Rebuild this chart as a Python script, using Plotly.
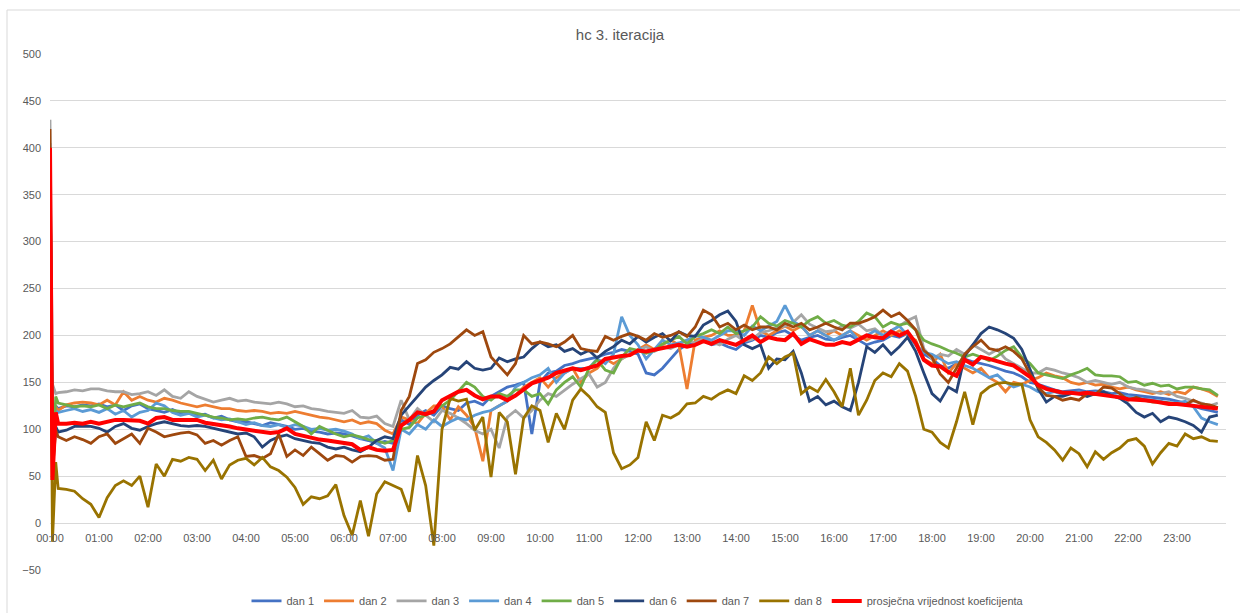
import plotly.graph_objects as go

# Sample times in minutes after midnight: three early readings, then every 10 minutes
sample_minutes = [0, 3, 7] + list(range(10, 1440, 10))

hour_ticks = list(range(0, 1440, 60))
hour_labels = ["00:00", "01:00", "02:00", "03:00", "04:00", "05:00", "06:00", "07:00",
               "08:00", "09:00", "10:00", "11:00", "12:00", "13:00", "14:00", "15:00",
               "16:00", "17:00", "18:00", "19:00", "20:00", "21:00", "22:00", "23:00"]

dan_1 = [405, 60, 125,
         122, 125, 124, 126, 125,
         127, 124, 126, 120, 125, 127,
         122, 120, 118, 121, 117, 118,
         115, 116, 112, 114, 110, 108,
         108, 106, 104, 107, 105, 103,
         100, 101, 98, 97, 95, 96,
         95, 93, 90, 88, 85, 87,
         85, 110, 105, 115, 120, 115,
         125, 122, 120, 128, 130, 126,
         135, 140, 145, 147, 150, 95,
         150, 160, 162, 168, 170, 173,
         175, 177, 180, 182, 185, 183,
         180, 160, 158, 165, 175, 185,
         190, 193, 195, 190, 192, 188,
         185, 192, 195, 200, 198, 203,
         205, 200, 195, 198, 200, 196,
         195, 198, 200, 195, 190, 193,
         195, 200, 198, 202, 190, 180,
         175, 168, 165, 170, 175, 172,
         170, 168, 165, 162, 160, 156,
         150, 148, 145, 142, 140, 141,
         142, 140, 141, 140, 138, 139,
         137, 136, 135, 134, 133, 132,
         130, 128, 125, 122, 120, 118]

dan_2 = [400, 55, 124,
         120, 126, 128, 129, 128,
         126, 131, 126, 140, 131, 135,
         131, 129, 133, 131, 128, 126,
         124, 126, 124, 122, 122, 120,
         119, 120, 119, 117, 118, 117,
         119, 117, 115, 113, 112, 110,
         108, 110, 106, 108, 106, 99,
         95, 113, 110, 106, 117, 125,
         125, 110, 124, 115, 102, 66,
         120, 125, 130, 136, 145, 150,
         155, 145, 155, 160, 165, 150,
         160, 165, 175, 170, 175, 180,
         185, 190, 185, 190, 195, 190,
         143, 195, 198, 200, 205, 200,
         200, 205, 232, 205, 200, 205,
         210, 205, 210, 200, 205, 200,
         205, 200, 205, 200, 195, 200,
         205, 200, 205, 200, 195, 175,
         170, 180, 160, 170, 165, 160,
         165, 155, 150, 140, 150, 148,
         152, 155, 160, 157, 155, 150,
         148, 150, 147, 148, 145, 143,
         145, 142, 140, 138, 140, 137,
         140, 138, 145, 143, 140, 135]

dan_3 = [430, 148, 138,
         139, 140, 142, 141, 143,
         143, 141, 140, 140, 137, 138,
         140, 136, 142, 135, 133, 140,
         135, 132, 129, 131, 133, 130,
         131, 129, 128, 127, 129, 127,
         124, 125, 122, 121, 119, 118,
         117, 120, 113, 112, 114, 106,
         103, 131, 110, 122, 115, 108,
         120, 117, 112, 106, 99, 95,
         100, 80, 113, 120, 112, 120,
         131, 138, 135, 142, 148, 154,
         159, 145, 150, 165, 175, 180,
         184, 188, 183, 188, 186, 190,
         195, 192, 197, 193, 190, 196,
         200, 194, 196, 203, 205, 208,
         210, 214, 222, 212, 208, 204,
         205, 210, 208, 212, 205, 207,
         200, 205, 210, 216, 220, 186,
         175, 180, 178, 185, 180, 190,
         185, 180, 185, 175, 170, 165,
         160, 160, 165, 163, 160, 158,
         155, 150, 152, 150, 148, 150,
         145, 143, 142, 140, 138, 140,
         135, 133, 130, 128, 125, 128]

dan_4 = [395, 55, 120,
         118, 120, 122, 119, 121,
         118, 122, 116, 120, 113, 118,
         120, 128, 125, 118, 115, 117,
         113, 115, 112, 110, 111, 108,
         105, 107, 104, 103, 105, 102,
         105, 103, 100, 101, 99, 100,
         98, 95, 90, 93, 85, 80,
         56, 100, 95, 105, 100, 110,
         103, 108, 112, 110, 115, 118,
         120, 125, 130, 145, 150, 155,
         158, 165, 150, 160, 165, 165,
         165, 175, 170, 180, 220, 200,
         190, 175, 185, 195, 190, 192,
         195, 200, 198, 195, 200, 205,
         205, 200, 210, 205, 210, 215,
         232, 215, 210, 200, 205, 200,
         195, 200, 205, 195, 200, 205,
         200, 205, 210, 200, 190, 182,
         180, 175, 170, 172, 168, 165,
         160, 155, 158, 150, 145, 148,
         145, 140, 138, 140, 137, 138,
         140, 137, 139, 140, 136, 135,
         135, 133, 132, 131, 130, 128,
         128, 130, 124, 112, 108, 105]

dan_5 = [400, 55, 135,
         128, 126, 124, 125, 124,
         126, 122, 126, 124, 126, 128,
         124, 122, 122, 120, 119, 119,
         117, 115, 113, 112, 110, 111,
         110, 112, 113, 111, 110, 113,
         108, 103, 95, 103, 99, 95,
         92, 94, 92, 89, 88, 85,
         88, 100, 102, 112, 115, 120,
         125, 131, 140, 150, 145, 135,
         131, 138, 135, 142, 142, 135,
         138, 127, 142, 150, 156, 145,
         165, 174, 163, 160, 177, 186,
         184, 181, 184, 191, 195, 199,
         191, 199, 202, 206, 202, 209,
         202, 205, 209, 220, 213, 210,
         216, 213, 209, 216, 220, 213,
         216, 211, 209, 215, 224, 220,
         209, 214, 211, 213, 206, 195,
         191, 188, 184, 181, 177, 180,
         177, 173, 178, 184, 188, 177,
         170, 160, 158, 156, 154, 158,
         161, 165, 158, 157, 157, 156,
         150, 151, 147, 149, 146, 147,
         143, 145, 145, 143, 142, 136]

dan_6 = [390, 60, 103,
         97, 99, 103, 103, 103,
         101, 97, 103, 106, 101, 99,
         103, 106, 108, 106, 104, 103,
         104, 103, 101, 99, 97, 95,
         96, 92, 81, 88, 92, 94,
         90, 88, 86, 85, 81, 79,
         81, 78, 76, 81, 88, 92,
         90, 115, 125, 135, 145, 152,
         158, 166, 164, 172, 165, 163,
         165, 176, 172, 175, 177, 186,
         193, 188, 190, 183, 186, 180,
         184, 176, 183, 188, 195, 191,
         199, 193, 198, 202, 194, 204,
         200, 199, 211, 216, 222, 226,
         215, 190, 186, 190, 165, 175,
         174, 183, 160, 130, 135, 126,
         130, 124, 120, 150, 188, 182,
         190, 180, 188, 198, 183, 160,
         138, 130, 145, 140, 178, 190,
         202, 209, 206, 202, 197, 185,
         163, 143, 129, 135, 135, 138,
         138, 135, 138, 140, 136, 133,
         127, 118, 113, 117, 108, 113,
         111, 108, 104, 97, 113, 115]

dan_7 = [420, 55, 99,
         92, 88, 92, 89, 85,
         92, 95, 85, 90, 95, 85,
         101, 97, 92, 94, 96, 97,
         94, 85, 88, 83, 88, 92,
         71, 72, 69, 74, 95, 71,
         78, 72, 81, 74, 67, 72,
         71, 65, 71, 72, 71, 67,
         68, 120, 135, 170, 174, 182,
         186, 191, 199, 206, 200, 204,
         177, 167, 158, 170, 200, 191,
         193, 191, 188, 193, 200, 186,
         184, 183, 199, 195, 199, 202,
         199, 195, 202, 198, 200, 204,
         199, 209, 227, 222, 209, 213,
         206, 211, 206, 209, 209, 206,
         213, 209, 213, 206, 209, 213,
         209, 206, 213, 213, 216, 220,
         227, 220, 224, 216, 206, 184,
         177, 159, 150, 165, 180, 188,
         195, 186, 184, 188, 183, 175,
         159, 145, 136, 135, 131, 133,
         131, 138, 137, 145, 144, 138,
         131, 134, 131, 129, 129, 128,
         127, 126, 131, 127, 126, 123]

dan_8 = [360, -20, 65,
         37, 36, 34, 26, 20,
         6, 27, 40, 45, 40, 50,
         17, 63, 50, 68, 66, 70,
         68, 56, 67, 47, 62, 67,
         69, 62, 70, 60, 56, 49,
         38, 20, 28, 26, 29, 41,
         8, -13, 24, -14, 31, 44,
         40, 36, 12, 72, 40, -24,
         100, 133, 130, 132, 99, 113,
         49, 118, 108, 52, 112, 125,
         120, 86, 117, 100, 131, 143,
         135, 124, 118, 75, 58, 62,
         70, 108, 88, 115, 112, 117,
         127, 128, 135, 132, 138, 142,
         138, 157, 152, 160, 177, 170,
         177, 181, 138, 145, 140, 153,
         140, 124, 165, 115, 131, 152,
         160, 156, 170, 162, 135, 100,
         97, 86, 80, 108, 140, 105,
         138, 145, 149, 150, 148, 148,
         110, 92, 86, 78, 67, 80,
         74, 60, 76, 68, 75, 80,
         88, 90, 82, 63, 75, 85,
         82, 95, 90, 92, 88, 87]

prosjek = [400, 46, 118,
           106, 106, 107, 106, 108,
           106, 108, 110, 110, 110, 109,
           106, 112, 113, 110, 110, 110,
           110, 107, 106, 104, 103, 101,
           100, 99, 97, 96, 97, 101,
           95, 93, 90, 89, 88, 87,
           85, 84, 78, 81, 78, 77,
           78, 104, 110, 118, 116, 119,
           131, 136, 140, 142, 136, 132,
           135, 135, 131, 136, 142, 149,
           152, 155, 160, 163, 165, 163,
           165, 168, 175, 177, 178, 179,
           184, 183, 185, 187, 188, 190,
           188, 190, 194, 191, 195, 192,
           190, 195, 200, 193, 198, 196,
           195, 202, 191, 196, 193, 190,
           190, 193, 191, 195, 200, 198,
           197, 204, 200, 204, 192, 174,
           168, 167, 161, 157, 174, 169,
           177, 175, 172, 170, 168, 162,
           156, 147, 143, 141, 139, 139,
           138, 139, 138, 136, 135, 134,
           132, 132, 131, 130, 128, 127,
           127, 126, 126, 124, 124, 122]

series_names = ["dan 1", "dan 2", "dan 3", "dan 4", "dan 5", "dan 6", "dan 7", "dan 8",
                "prosječna vrijednost koeficijenta"]
series_values = [dan_1, dan_2, dan_3, dan_4, dan_5, dan_6, dan_7, dan_8, prosjek]
series_colors = ["#4472C4", "#ED7D31", "#A5A5A5", "#5B9BD5", "#70AD47",
                 "#264478", "#9E480E", "#997300", "#FF0000"]
series_widths = [2.8, 2.8, 2.8, 2.8, 2.8, 2.8, 2.8, 2.8, 4]

TEXT = "#595959"
GRID = "#D9D9D9"
FONT = "Liberation Sans Narrow, Liberation Sans, Arial, sans-serif"

fig = go.Figure()
for name, vals, color, width in zip(series_names, series_values, series_colors, series_widths):
    fig.add_trace(go.Scatter(
        x=sample_minutes, y=vals, mode="lines", name=name,
        line=dict(color=color, width=width),
    ))

Y_MIN, Y_MAX = -50, 500

fig.update_layout(
    width=1240, height=613,
    margin=dict(l=50, r=14, t=54, b=43, autoexpand=False),
    paper_bgcolor="white", plot_bgcolor="white",
    font=dict(family=FONT, color=TEXT, size=11),
    title=dict(text="hc 3. iteracija", x=0.5, xanchor="center",
               y=1 - 35 / 613, yanchor="middle", yref="container",
               font=dict(size=15, color=TEXT, family=FONT)),
    showlegend=True,
    legend=dict(orientation="h", x=0.5, xanchor="center", y=-0.06, yanchor="middle",
                font=dict(size=11, color=TEXT, family=FONT),
                itemwidth=30, tracegroupgap=0, bgcolor="rgba(0,0,0,0)"),
    xaxis=dict(range=[0, 1440], tickvals=hour_ticks, ticktext=hour_labels,
               showgrid=False, zeroline=False, showline=False, ticks="",
               anchor="free", position=(0 - Y_MIN) / (Y_MAX - Y_MIN),
               ticklabelstandoff=7,
               tickfont=dict(size=11, color=TEXT)),
    yaxis=dict(range=[Y_MIN, Y_MAX], tick0=0, dtick=50, showgrid=True,
               gridcolor=GRID, gridwidth=1, zeroline=False, showline=False,
               ticks="", tickfont=dict(size=11, color=TEXT), ticklabelstandoff=8),
)

# Chart-area frame
fig.add_shape(type="line", xref="paper", yref="paper",
              x0=(7 - 50) / 1176, x1=(7 - 50) / 1176, y0=(570 - 613) / 516, y1=(570 - 10) / 516,
              line=dict(color=GRID, width=1))
fig.add_shape(type="line", xref="paper", yref="paper",
              x0=(7 - 50) / 1176, x1=(1240 - 50) / 1176, y0=(570 - 10) / 516, y1=(570 - 10) / 516,
              line=dict(color=GRID, width=1))

fig.write_html("out.html")
